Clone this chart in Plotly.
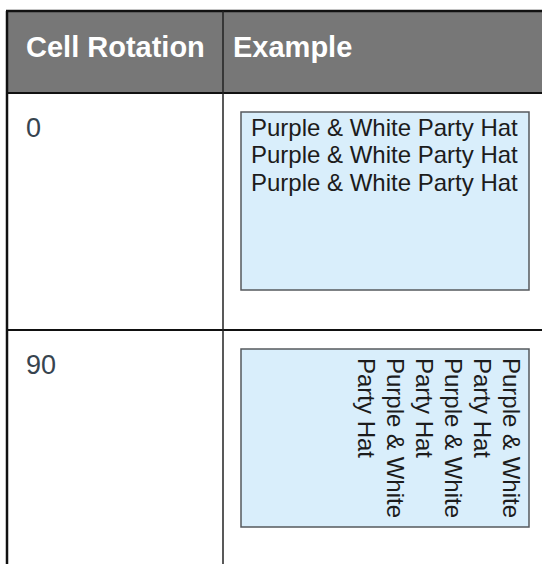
import plotly.graph_objects as go

# ---- table content ----
headers = ["Cell Rotation", "Example"]
rotations = ["0", "90"]
example_lines_0 = ["Purple & White Party Hat", "Purple & White Party Hat", "Purple & White Party Hat"]
example_lines_90 = ["Purple & White", "Party Hat", "Purple & White", "Party Hat", "Purple & White", "Party Hat"]

# ---- layout constants ----
W, H = 542, 564
TABLE_LEFT, TABLE_TOP = 7, 11
HEADER_H = 82
ROW_H = 237
COL1_W = 216
BOX_DX, BOX_DY = 18, 19
BOX_W, BOX_H = 288, 178
FONT = "Liberation Sans, Arial, sans-serif"

fig = go.Figure()
shapes = []
anns = []

col2_x = TABLE_LEFT + COL1_W
header_bottom = TABLE_TOP + HEADER_H
row_tops = [header_bottom + i * ROW_H for i in range(len(rotations))]

# header background
shapes.append(dict(type="rect", x0=TABLE_LEFT, x1=W + 5, y0=TABLE_TOP, y1=header_bottom,
                   fillcolor="#777777", line=dict(width=0), layer="below"))

# example boxes
for rt in row_tops:
    shapes.append(dict(type="rect", x0=col2_x + BOX_DX, x1=col2_x + BOX_DX + BOX_W,
                       y0=rt + BOX_DY, y1=rt + BOX_DY + BOX_H,
                       fillcolor="#d9eefb", line=dict(color="#55595e", width=1.5), layer="below"))

# grid lines
line_col = "#111111"
shapes.append(dict(type="line", x0=TABLE_LEFT - 1, x1=W + 5, y0=TABLE_TOP, y1=TABLE_TOP,
                   line=dict(color=line_col, width=2.5)))
shapes.append(dict(type="line", x0=TABLE_LEFT, x1=TABLE_LEFT, y0=TABLE_TOP, y1=H + 5,
                   line=dict(color=line_col, width=2.5)))
shapes.append(dict(type="line", x0=TABLE_LEFT, x1=W + 5, y0=header_bottom, y1=header_bottom,
                   line=dict(color=line_col, width=2)))
for rt in row_tops[1:]:
    shapes.append(dict(type="line", x0=TABLE_LEFT, x1=W + 5, y0=rt, y1=rt,
                       line=dict(color=line_col, width=2)))
shapes.append(dict(type="line", x0=col2_x, x1=col2_x, y0=TABLE_TOP, y1=H + 5,
                   line=dict(color="#222222", width=1.5)))

# header text
hdr_x = [TABLE_LEFT + 18, col2_x + 9]
for txt, x in zip(headers, hdr_x):
    anns.append(dict(x=x, y=TABLE_TOP + 36, text=txt, xanchor="left", yanchor="middle",
                     showarrow=False, borderpad=0,
                     font=dict(family=FONT, size=29, color="white", weight=700)))

# rotation values
for txt, rt in zip(rotations, row_tops):
    anns.append(dict(x=TABLE_LEFT + 18, y=rt + 35, text=txt, xanchor="left", yanchor="middle",
                     showarrow=False, borderpad=0,
                     font=dict(family=FONT, size=27, color="#37444f")))

# example row 0 (horizontal text)
bx0 = col2_x + BOX_DX + 9
for i, line in enumerate(example_lines_0):
    anns.append(dict(x=bx0, y=row_tops[0] + 34 + i * 27.5, text=line, xanchor="left",
                     yanchor="middle", showarrow=False, borderpad=0,
                     font=dict(family=FONT, size=24, color="#1c1c1c")))

# example row 90 (rotated text, lines stacked right to left)
bx_right = col2_x + BOX_DX + BOX_W - 17
for i, line in enumerate(example_lines_90):
    anns.append(dict(x=bx_right - i * 29, y=row_tops[1] + BOX_DY + 8, text=line,
                     xanchor="center", yanchor="top", textangle=90, showarrow=False, borderpad=0,
                     font=dict(family=FONT, size=24, color="#1c1c1c")))

fig.update_layout(
    width=W, height=H,
    margin=dict(l=0, r=0, t=0, b=0),
    paper_bgcolor="white", plot_bgcolor="white",
    xaxis=dict(range=[0, W], visible=False, fixedrange=True),
    yaxis=dict(range=[H, 0], visible=False, fixedrange=True),
    shapes=shapes, annotations=anns, showlegend=False,
)
fig.write_html("out.html", config={"displayModeBar": False},
               post_script="document.body.style.margin='0';document.body.style.overflow='hidden';")
